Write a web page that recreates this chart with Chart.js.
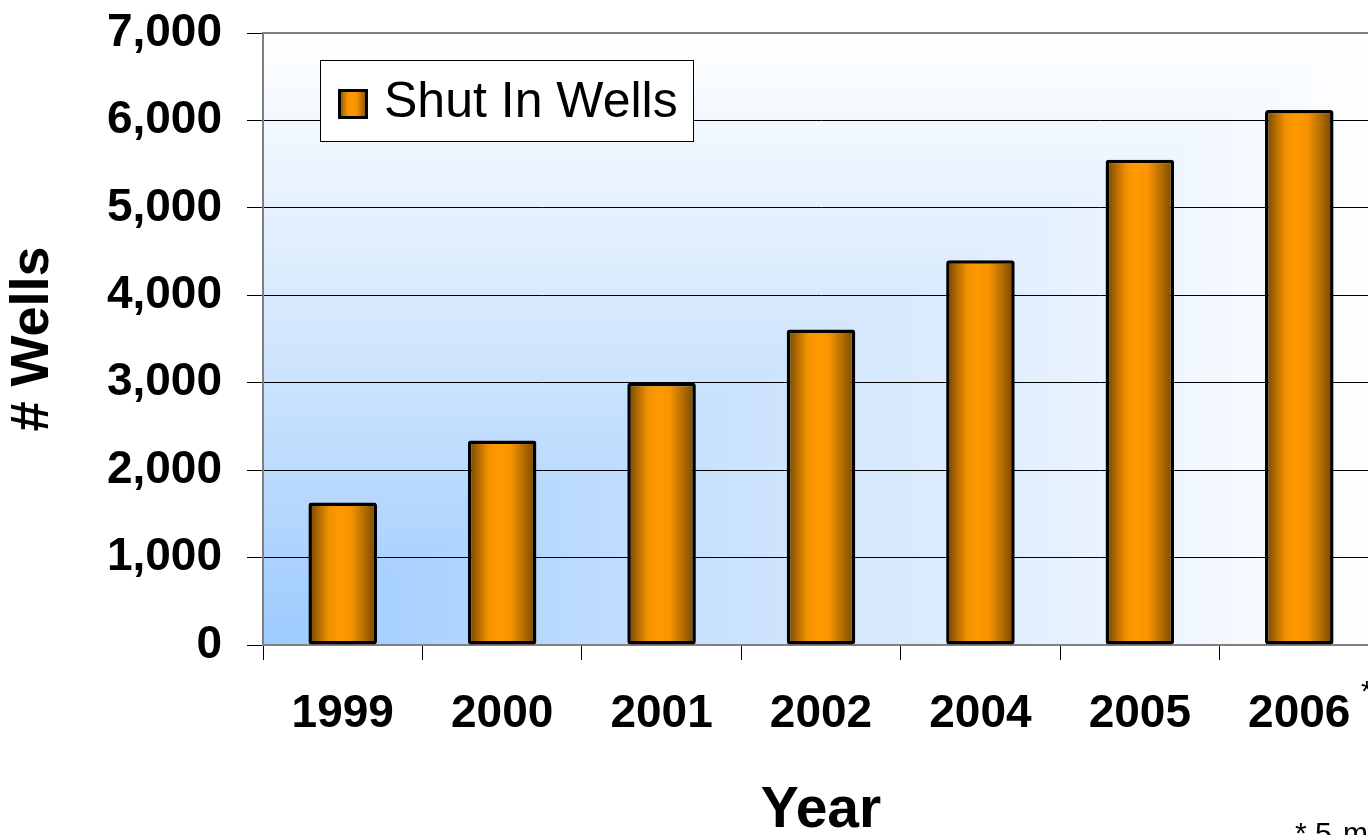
<!DOCTYPE html>
<html>
<head>
<meta charset="utf-8">
<script src="https://cdn.jsdelivr.net/npm/chart.js@4.4.1/dist/chart.umd.min.js"></script>
<style>
  html, body { margin: 0; padding: 0; overflow: hidden; background: #fff; }
  #wrap { width: 1368px; height: 835px; overflow: hidden; }
</style>
</head>
<body>
<div id="wrap"><canvas id="chart" width="1400" height="835"></canvas></div>
<script>
const years = ['1999', '2000', '2001', '2002', '2004', '2005', '2006'];
const shutInWells = [1630, 2340, 3000, 3610, 4400, 5550, 6120];
const seriesName = 'Shut In Wells';
const yMax = 7000;
const yStep = 1000;

function orangeGradient(ctx, x0, x1) {
  const g = ctx.createLinearGradient(x0, 0, x1, 0);
  g.addColorStop(0, '#6e4200');
  g.addColorStop(0.3, '#f29100');
  g.addColorStop(0.45, '#ff9900');
  g.addColorStop(0.62, '#f79400');
  g.addColorStop(1, '#744600');
  return g;
}

const barPct = 0.43;

// "from corner" fill: light blue in the bottom left corner fading to white
function cornerColor(t) {
  const a = [156, 203, 255], b = [210, 230, 253], c = [255, 255, 255];
  let p, q, u;
  if (t < 0.5) { p = a; q = b; u = t / 0.5; } else { p = b; q = c; u = (t - 0.5) / 0.5; }
  const m = i => Math.round(p[i] + (q[i] - p[i]) * u);
  return 'rgb(' + m(0) + ',' + m(1) + ',' + m(2) + ')';
}

const plotBackground = {
  id: 'plotBackground',
  beforeDraw(chart) {
    const { ctx, chartArea: a } = chart;
    const w = a.right - a.left, h = a.bottom - a.top;
    const steps = 160;
    ctx.save();
    for (let i = steps; i >= 1; i--) {
      const t = i / steps;
      ctx.fillStyle = cornerColor(t);
      ctx.fillRect(a.left, a.bottom - h * t, w * t, h * t);
    }
    ctx.restore();
  },
  beforeDatasetsDraw(chart) {
    const { ctx, chartArea: a } = chart;
    ctx.save();
    ctx.strokeStyle = '#808080';
    ctx.lineWidth = 2;
    ctx.beginPath();
    ctx.moveTo(a.left, a.top);
    ctx.lineTo(a.right, a.top);
    ctx.stroke();
    ctx.restore();
  }
};

const boxLegend = {
  id: 'boxLegend',
  afterDraw(chart) {
    const ctx = chart.ctx;
    ctx.save();
    ctx.fillStyle = '#ffffff';
    ctx.fillRect(320, 60, 373, 81);
    ctx.strokeStyle = '#000000';
    ctx.lineWidth = 1;
    ctx.strokeRect(320.5, 60.5, 373, 81);
    ctx.fillStyle = orangeGradient(ctx, 338, 368);
    ctx.fillRect(338, 89, 30, 30);
    ctx.lineWidth = 3;
    ctx.strokeRect(339.5, 90.5, 27, 27);
    ctx.fillStyle = '#000000';
    ctx.font = '50px "Liberation Sans", Arial, sans-serif';
    ctx.textBaseline = 'alphabetic';
    ctx.textAlign = 'left';
    ctx.fillText(chart.data.datasets[0].label, 384, 117);
    // footnote
    ctx.font = '30px "Liberation Sans", Arial, sans-serif';
    ctx.fillText('*', 1361, 701);
    ctx.fillText('* 5', 1295, 843);
    ctx.fillText('months', 1343, 843);
    ctx.restore();
  }
};

new Chart(document.getElementById('chart'), {
  type: 'bar',
  data: {
    labels: years,
    datasets: [{
      label: seriesName,
      data: shutInWells,
      backgroundColor(context) {
        const chart = context.chart;
        const xs = chart.scales.x;
        if (!chart.chartArea || !xs) return '#ff9900';
        const cx = xs.getPixelForValue(context.dataIndex);
        const w = (xs.width / years.length) * barPct;
        return orangeGradient(chart.ctx, cx - w / 2, cx + w / 2);
      },
      borderColor: '#000000',
      borderWidth: 3.5,
      borderRadius: 3,
      borderSkipped: false,
      barPercentage: barPct,
      categoryPercentage: 1
    }]
  },
  options: {
    responsive: false,
    animation: false,
    devicePixelRatio: 1,
    layout: { padding: { top: 33, right: 21, left: 0, bottom: 0 } },
    plugins: {
      legend: { display: false },
      tooltip: { enabled: false }
    },
    scales: {
      x: {
        offset: true,
        afterFit(scale) {
          scale.height = 190;
          scale.paddingLeft = 0;
          scale.paddingRight = 0;
        },
        grid: {
          drawOnChartArea: false,
          drawTicks: true,
          tickLength: 15,
          color: '#000000',
          offset: true
        },
        border: { color: '#808080', width: 2 },
        ticks: {
          color: '#000000',
          padding: 27,
          font: { family: '"Liberation Sans", Arial, sans-serif', size: 46, weight: 'bold' }
        },
        title: {
          display: true,
          text: 'Year',
          color: '#000000',
          padding: { top: 0, bottom: -5 },
          font: { family: '"Liberation Sans", Arial, sans-serif', size: 57, weight: 'bold', lineHeight: 1 }
        }
      },
      y: {
        min: 0,
        max: yMax,
        afterFit(scale) {
          scale.width = 263;
          scale.paddingTop = 0;
          scale.paddingBottom = 0;
        },
        grid: {
          color: '#000000',
          lineWidth: 1,
          tickLength: 16
        },
        border: { color: '#808080', width: 2 },
        ticks: {
          stepSize: yStep,
          color: '#000000',
          padding: 25,
          font: { family: '"Liberation Sans", Arial, sans-serif', size: 46, weight: 'bold' },
          callback: v => v.toLocaleString('en-US')
        },
        title: {
          display: true,
          text: '# Wells',
          color: '#000000',
          padding: { top: 6, bottom: 0 },
          font: { family: '"Liberation Sans", Arial, sans-serif', size: 54, weight: 'bold', lineHeight: 1 }
        }
      }
    }
  },
  plugins: [plotBackground, boxLegend]
});
</script>
</body>
</html>
